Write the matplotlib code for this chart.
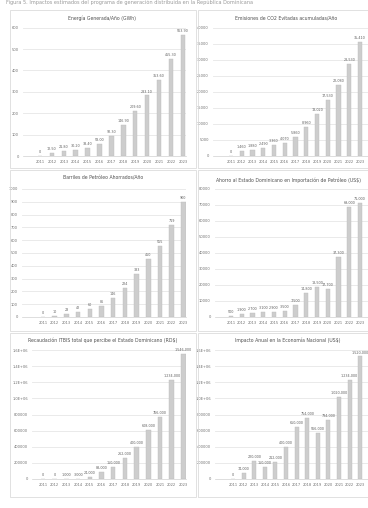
import matplotlib
matplotlib.use("Agg")
import matplotlib.pyplot as plt
from matplotlib.patches import Rectangle

W, H = 368, 508
DPI = 100

years = [str(y) for y in range(2011, 2024)]

# Series values per year
energia_gwh = [0, 12.5, 21.8, 30.2, 38.4, 58.0, 92.3, 146.9, 209.6, 283.1, 353.6, 455.3, 563.9]
co2_ton = [0, 1460, 1880, 2490, 3360, 4070, 5860, 8960, 13020, 17530, 22080, 28530, 35410]
barriles = [0, 9.7, 23, 42, 60, 86, 146, 224, 333, 450, 555, 719, 900]
ahorro_usd = [500, 1900, 2700, 3100, 2900, 3500, 7500, 14800, 18500, 17700, 37300, 69000, 71000]
recaudacion_rd = [0, 0, 1000, 3000, 24000, 88000, 150000, 262000, 400000, 608000, 766000, 1234000, 1546000]
impacto_usd = [0, 74000, 220000, 150000, 212000, 400000, 650000, 754000, 566000, 734000, 1020000, 1234000, 1520000]

titles = [
    "Energía Generada/Año (GWh)",
    "Emisiones de CO2 Evitadas acumuladas/Año",
    "Barriles de Petróleo Ahorrados/Año",
    "Ahorro al Estado Dominicano en Importación de Petróleo (US$)",
    "Recaudación ITBIS total que percibe el Estado Dominicano (RD$)",
    "Impacto Anual en la Economía Nacional (US$)",
]

y_ticks = [
    list(range(0, 700, 100)),
    list(range(0, 45000, 5000)),
    list(range(0, 1100, 100)),
    list(range(0, 90000, 10000)),
    list(range(0, 1800000, 200000)),
    list(range(0, 1800000, 200000)),
]

fig = plt.figure(figsize=(W / DPI, H / DPI), dpi=DPI)
fig.patch.set_facecolor("white")

TXT = "#707070"
BAR = "#cdcdcd"
GRID = "#e6e6e6"


def fx(x):
    return x / W


def fy(y):
    return 1 - y / H


# Caption line at the top of the page
fig.text(fx(6), fy(2), "Figura 5. Impactos estimados del programa de generación distribuida en la República Dominicana",
         fontsize=3.6, color="#9a9a9a", va="center", ha="left")

# Panel frames
for (x0, y0, x1, y1) in [(10, 10, 196, 168), (198, 10, 372, 168),
                         (10, 170, 196, 331), (198, 170, 372, 331),
                         (10, 333, 196, 497), (198, 333, 372, 497)]:
    fig.patches.append(Rectangle((fx(x0), fy(y1)), fx(x1 - x0), (y1 - y0) / H,
                                 transform=fig.transFigure, fill=False,
                                 edgecolor="#dcdcdc", linewidth=0.6))


def fmt_val(v, kind):
    if kind == "dec":
        return "0" if v == 0 else f"{v:.2f}"
    return f"{v:,.0f}"


def fmt_tick(v):
    if v >= 1000000:
        return f"{v/1e6:.1f}E+06"
    return f"{v:.0f}"


# (left px, top px, right px, bottom px, first bar px, spacing px, title x, title y)
layout = [
    (23, 27.7, 186, 156, 40, 11.9, 102, 18),
    (213, 27.7, 368, 155.7, 231, 10.75, 286, 18),
    (22, 189, 186, 317, 43, 11.7, 103, 178),
    (215, 189, 368, 317, 231, 10.75, 288, 180),
    (32, 350, 186, 479, 43, 11.7, 103, 340),
    (215, 350, 368, 479, 233, 10.6, 288, 340),
]

series = [energia_gwh, co2_ton, barriles, ahorro_usd, recaudacion_rd, impacto_usd]
kinds = ["dec", "int", "int", "int", "int", "int"]

for i, (l, t, r, b, first, sp, tx, ty) in enumerate(layout):
    ax = fig.add_axes([fx(l), fy(b), fx(r - l), (b - t) / H])
    ax.set_facecolor("none")
    xs = list(range(len(years)))
    vals = series[i]
    ax.bar(xs, vals, width=0.38, color=BAR, edgecolor="#bdbdbd", linewidth=0.3, zorder=2)
    ax.set_xlim((l - first) / sp, (r - first) / sp)
    ticks = y_ticks[i]
    ax.set_ylim(0, ticks[-1])
    ax.yaxis.grid(True, color=GRID, linewidth=0.6, zorder=0)
    ax.set_yticks(ticks)
    ax.set_yticklabels([fmt_tick(v) for v in ticks], fontsize=2.6, color=TXT)
    ax.set_xticks(xs)
    ax.set_xticklabels(years, fontsize=2.6, color=TXT)
    ax.tick_params(length=0, pad=3)
    for s in ["top", "right", "left"]:
        ax.spines[s].set_visible(False)
    ax.spines["bottom"].set_color("#d0d0d0")
    ax.spines["bottom"].set_linewidth(0.5)
    ymax = ticks[-1]
    for x, v in zip(xs, vals):
        ax.text(x, v + ymax * 0.015, fmt_val(v, kinds[i]), fontsize=2.4, color="#606060",
                ha="center", va="bottom", zorder=3, clip_on=False)
    fig.text(fx(tx), fy(ty), titles[i], fontsize=3.3, color="#505050", ha="center", va="center")

fig.savefig("out.png", dpi=DPI, facecolor="white")
